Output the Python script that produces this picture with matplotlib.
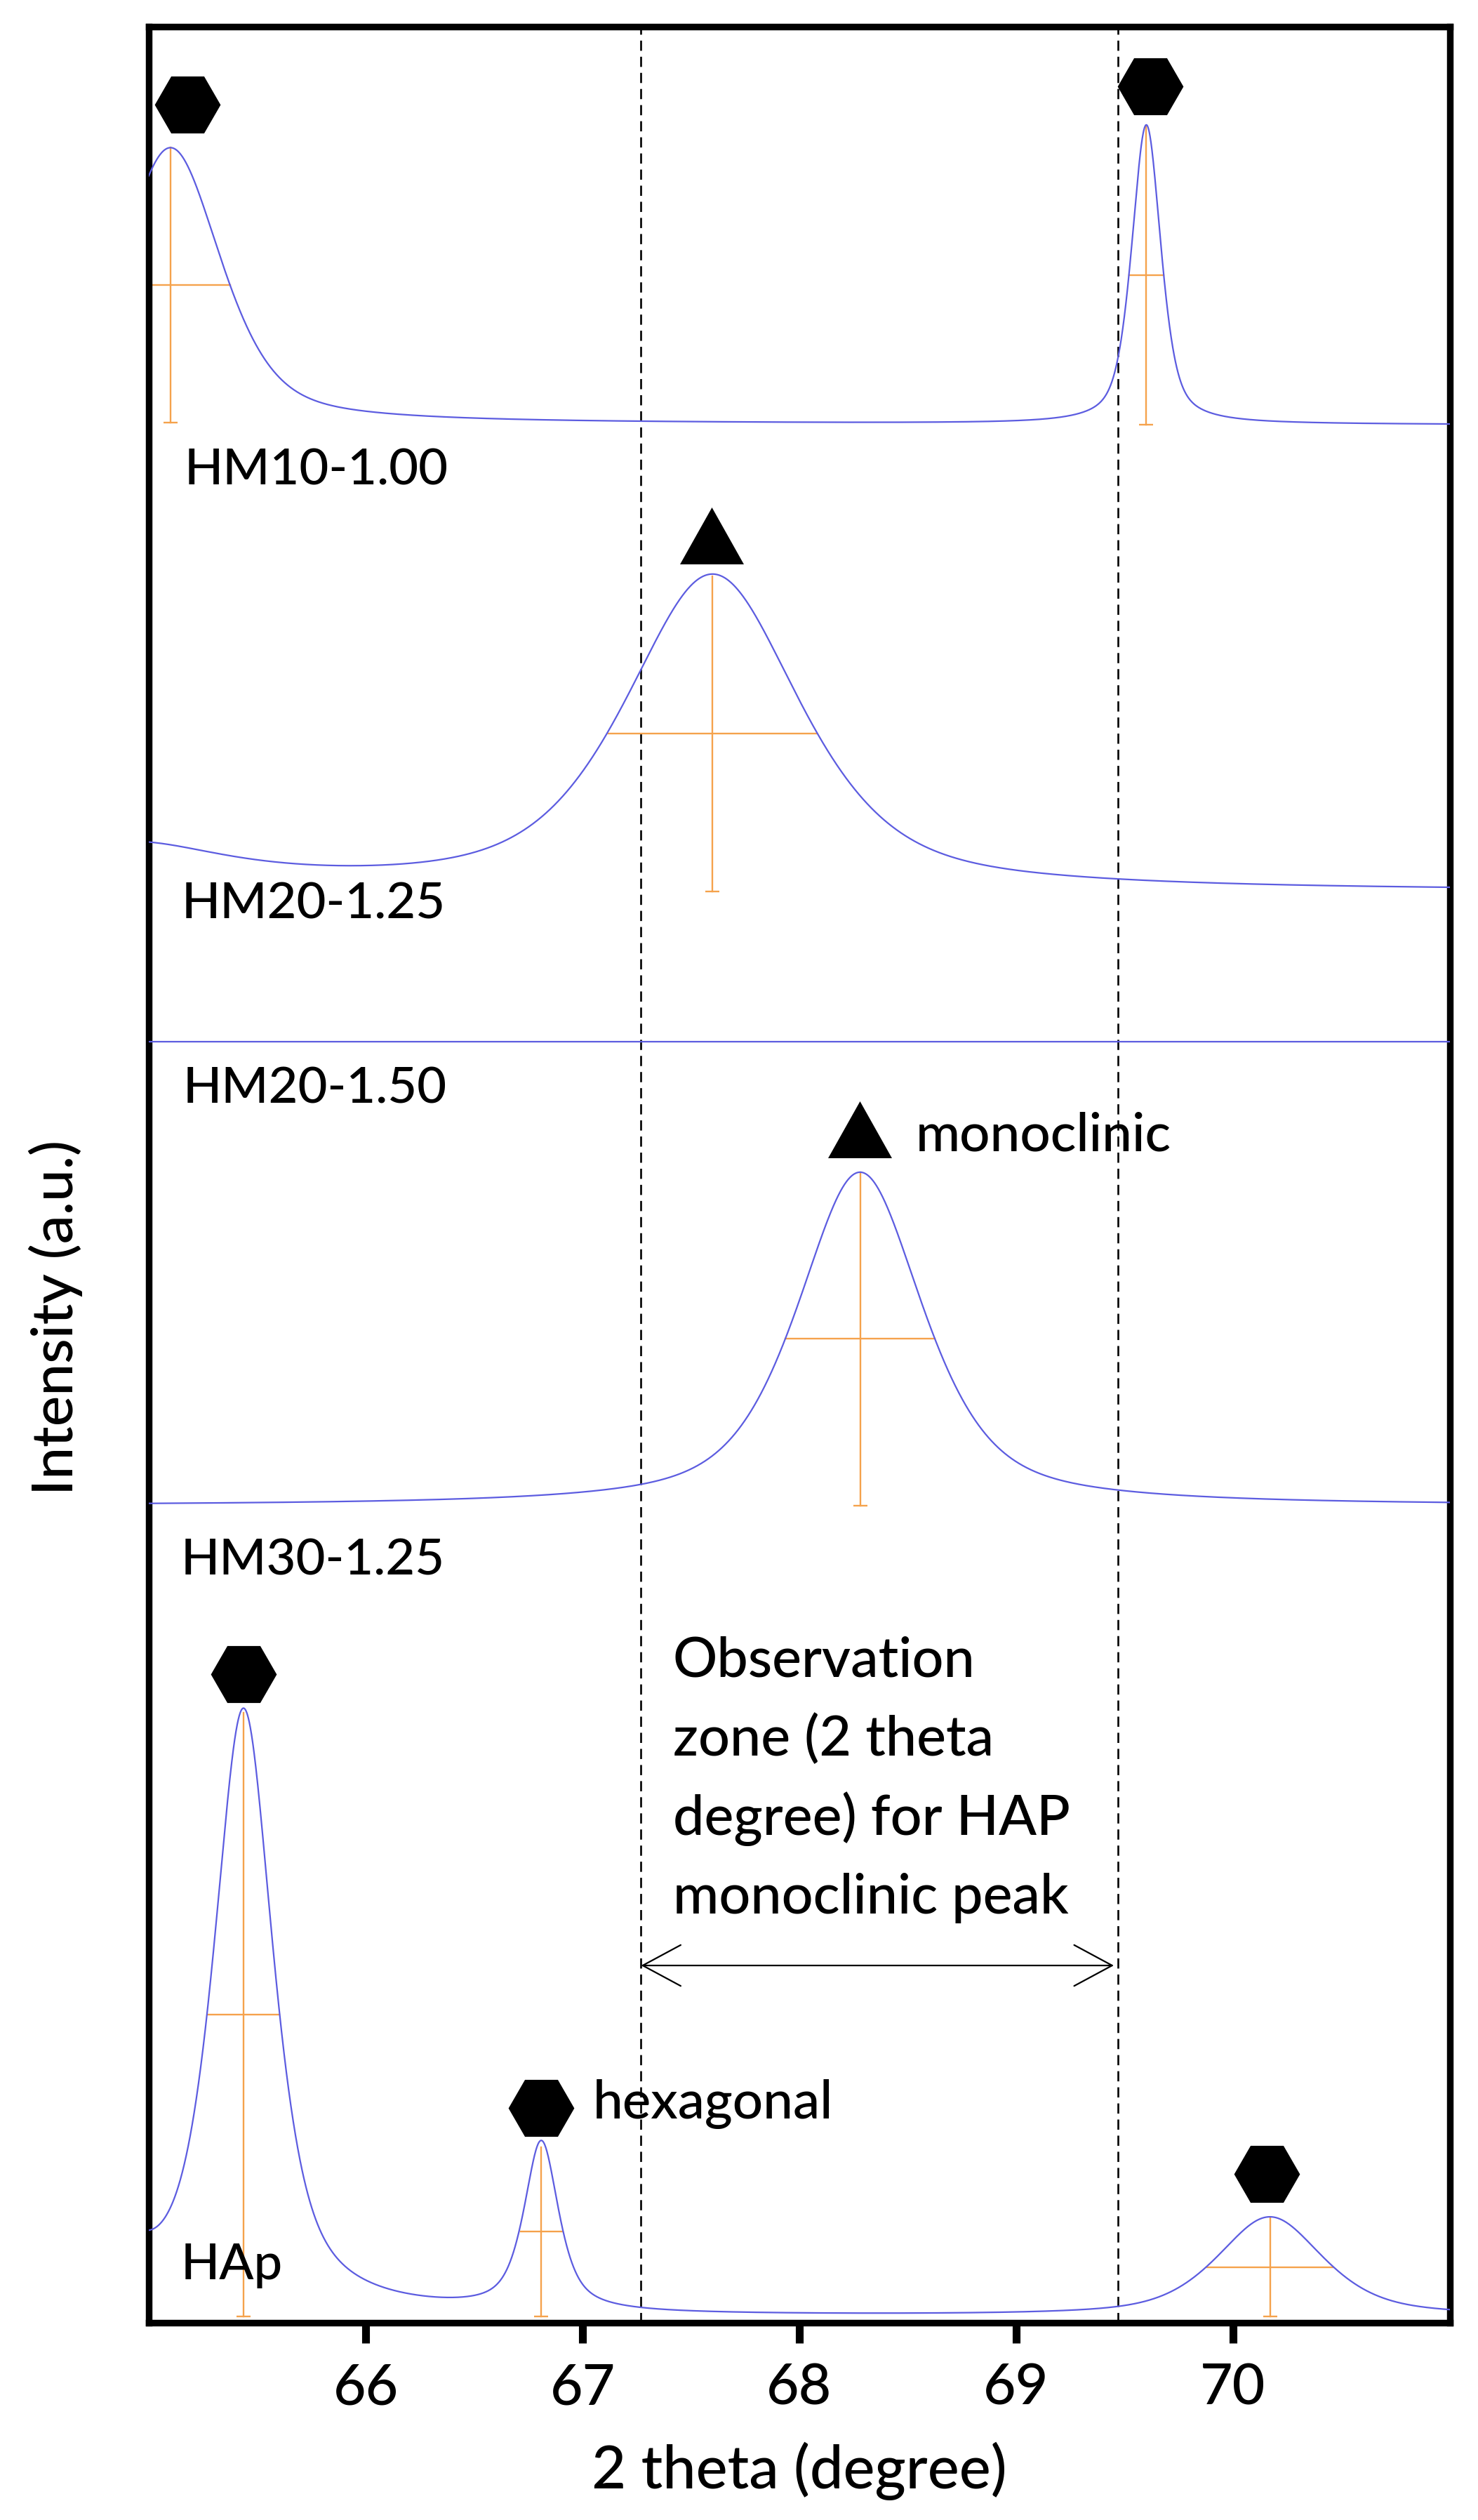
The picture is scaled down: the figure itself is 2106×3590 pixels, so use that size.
import numpy as np
import matplotlib
matplotlib.use('Agg')
import matplotlib.pyplot as plt

plt.rcParams['font.family'] = ['Lato', 'DejaVu Sans']

# ---------------- data (intensity in a.u.) ----------------
x_range = [65.0, 71.0]
x_ticks = [66, 67, 68, 69, 70]
zone_limits = [67.27, 69.47]          # dashed lines of the observation zone
arrow_limits = [67.27, 69.45]

# HM10-1.00
hm10_base = [82.75, 82.66]            # baseline at 65 and 71
hm10_center = [65.10, 69.60]
hm10_height = [11.98, 13.02]
hm10_fwhm = [0.55, 0.16]
hm10_eta = [0.50, 0.55]
hm10_marked = [True, True]

# HM20-1.25
hm2025_base = [62.34, 62.34]
hm2025_center = [67.60, 64.90]
hm2025_height = [13.73, 1.93]
hm2025_fwhm = [0.96, 1.20]
hm2025_eta = [0.60, 1.00]
hm2025_marked = [True, False]

# flat trace separating HM20-1.25 and HM20-1.50
separator_level = 55.79

# HM20-1.50
hm2050_base = [35.59, 35.59]
hm2050_center = [68.28]
hm2050_height = [14.52]
hm2050_fwhm = [0.69]
hm2050_eta = [0.60]
hm2050_marked = [True]

# HAp
hap_base = [0.275, 0.275]
hap_center = [65.437, 66.81, 70.17, 64.85]
hap_height = [26.29, 7.37, 4.31, 2.75]
hap_fwhm = [0.33, 0.19, 0.58, 0.30]
hap_eta = [0.70, 0.70, 0.58, 1.00]
hap_marked = [True, True, True, False]

# phase symbols
hex_x = [65.178, 69.618, 65.437, 66.809, 70.155]
hex_y = [96.61, 97.40, 28.25, 9.355, 6.48]
tri_x = [67.595, 68.278]
tri_y = [77.84, 51.97]

# text labels
sample_labels = ['HM10-1.00', 'HM20-1.25', 'HM20-1.50', 'HM30-1.25', 'HAp']
sample_label_x = [65.165, 65.152, 65.158, 65.149, 65.149]
sample_label_y = [80.04, 61.17, 53.13, 32.56, 1.895]
phase_labels = ['monoclinic', 'hexagonal']
phase_label_x = [68.537, 67.049]
phase_label_y = [51.05, 8.90]
obs_lines = ['Observation', 'zone (2 theta', 'degree) for HAP', 'monoclinic peak']
obs_x = 67.417
obs_y = [28.13, 24.70, 21.25, 17.82]
arrow_y = 15.56

# ---------------- drawing ----------------
BLUE = '#5c5ce0'
ORANGE = '#f5a24c'
WEIGHT = 'medium'

W, H, DPI = 2106, 3590, 100
fig = plt.figure(figsize=(W / DPI, H / DPI), dpi=DPI)
ax = fig.add_axes([212 / W, 1 - 3309 / H, (2066 - 212) / W, (3309 - 38) / H])

xx = np.linspace(x_range[0], x_range[1], 4001)


def pseudo_voigt(x, c, h, fwhm, eta):
    t = ((x - c) / (fwhm / 2.0)) ** 2
    return h * (eta / (1 + t) + (1 - eta) * np.exp(-np.log(2) * t))


def draw_pattern(base, centers, heights, fwhms, etas, marked):
    b = np.interp(xx, x_range, base)
    y = b.copy()
    for c, h, f, e in zip(centers, heights, fwhms, etas):
        y += pseudo_voigt(xx, c, h, f, e)
    ax.plot(xx, y, color=BLUE, lw=1.6, zorder=3)
    for c, h, f, m in zip(centers, heights, fwhms, marked):
        if not m:
            continue
        b0 = np.interp(c, x_range, base)
        ax.plot([c, c], [b0, b0 + h], color=ORANGE, lw=1.7, zorder=2)
        ax.plot([c - f / 2, c + f / 2], [b0 + h / 2, b0 + h / 2], color=ORANGE, lw=1.7, zorder=2)
        ax.plot([c], [b0], marker='_', ms=14, mew=1.7, color=ORANGE, zorder=2)


draw_pattern(hm10_base, hm10_center, hm10_height, hm10_fwhm, hm10_eta, hm10_marked)
draw_pattern(hm2025_base, hm2025_center, hm2025_height, hm2025_fwhm, hm2025_eta, hm2025_marked)
draw_pattern(hm2050_base, hm2050_center, hm2050_height, hm2050_fwhm, hm2050_eta, hm2050_marked)
draw_pattern(hap_base, hap_center, hap_height, hap_fwhm, hap_eta, hap_marked)
ax.plot(x_range, [separator_level, separator_level], color=BLUE, lw=1.6, zorder=3)

for zx in zone_limits:
    ax.axvline(zx, color='black', lw=1.9, ls=(0, (5.5, 3.2)), zorder=1)

ax.plot(hex_x, hex_y, ls='none', marker='H', ms=67.5, color='black', mew=0, zorder=5)
tri_verts = [(-1.0, -0.89), (1.0, -0.89), (0.0, 0.89)]
ax.plot(tri_x, tri_y, ls='none', marker=tri_verts, ms=65.5, color='black', mew=0, zorder=5)

for s, tx, ty in zip(sample_labels, sample_label_x, sample_label_y):
    ax.text(tx, ty, s, fontsize=52, fontweight=WEIGHT, ha='left', va='baseline', zorder=6)
for s, tx, ty in zip(phase_labels, phase_label_x, phase_label_y):
    ax.text(tx, ty, s, fontsize=55, fontweight=WEIGHT, ha='left', va='baseline', zorder=6)
for s, ty in zip(obs_lines, obs_y):
    ax.text(obs_x, ty, s, fontsize=57, fontweight=WEIGHT, ha='left', va='baseline', zorder=6)

ax.annotate('', xy=(arrow_limits[0], arrow_y), xytext=(arrow_limits[1], arrow_y),
            arrowprops=dict(arrowstyle='<->,head_length=1.95,head_width=1.05',
                            mutation_scale=20, lw=1.6, color='black',
                            shrinkA=0, shrinkB=0), zorder=6)

ax.set_xlim(x_range)
ax.set_ylim(0, 100)
ax.set_xticks(x_ticks)
ax.set_xticklabels([str(t) for t in x_ticks], fontweight=WEIGHT)
ax.set_yticks([])
ax.tick_params(axis='x', direction='out', length=20.6, width=8, labelsize=58, pad=20)
for sp in ax.spines.values():
    sp.set_linewidth(6.8)
    sp.set_color('black')

ax.set_xlabel('2 theta (degree)', fontsize=61, fontweight=WEIGHT)
ax.xaxis.set_label_coords(0.5, (3309 - 3545) / 3271)
ax.xaxis.label.set_va('baseline')
ax.set_ylabel('Intensity (a.u.)', fontsize=59, fontweight=WEIGHT)
ax.yaxis.set_label_coords((79 - 212) / 1854, (3309 - 1877) / 3271)
ax.yaxis.label.set_va('center')
ax.yaxis.label.set_ha('center')

fig.savefig('out.png', dpi=DPI, facecolor='white')
